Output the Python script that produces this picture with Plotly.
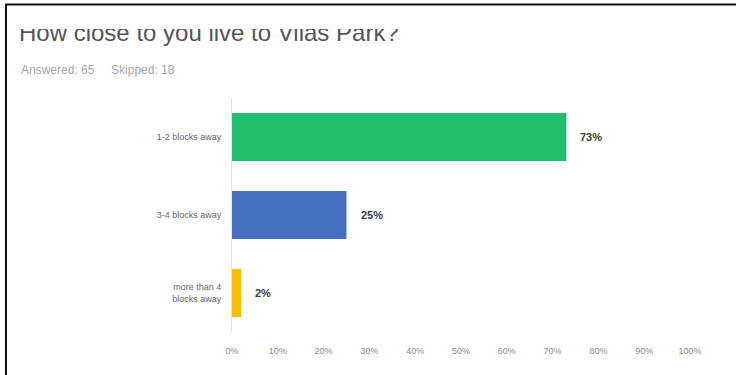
import plotly.graph_objects as go

# ---- data ----
categories = ["1-2 blocks away", "3-4 blocks away", "more than 4<br>blocks away"]
values = [73, 25, 2]
value_labels = ["73%", "25%", "2%"]
bar_colors = ["#1fbf6d", "#4671bf", "#f7bd00"]
tick_vals = [0, 10, 20, 30, 40, 50, 60, 70, 80, 90, 100]
tick_text = ["0%", "10%", "20%", "30%", "40%", "50%", "60%", "70%", "80%", "90%", "100%"]
title_text = "How close to you live to Vilas Park?"
subtitle_text = "Answered: 65&nbsp;&nbsp;&nbsp;&nbsp;&nbsp;Skipped: 18"

W, H = 736, 375
FONT = "Liberation Sans, Arial, sans-serif"

def px_x(p):
    return p / W

def px_y(p):
    return 1 - p / H

fig = go.Figure()

fig.add_trace(go.Bar(
    y=categories, x=values, orientation="h",
    marker=dict(color=bar_colors, line=dict(width=0)),
    width=0.615, hoverinfo="skip", showlegend=False,
))

# title drawn as clipped text (top of letters cut off as in the screenshot)
fig.add_trace(go.Scatter(
    x=[19], y=[34.5], mode="text", text=[title_text],
    textposition="middle right",
    textfont=dict(family=FONT, size=24, color="#555555"),
    xaxis="x2", yaxis="y2", cliponaxis=True,
    hoverinfo="skip", showlegend=False,
))

for v, c, t in zip(values, categories, value_labels):
    fig.add_annotation(
        x=v, y=c, text="<b>" + t + "</b>", showarrow=False,
        xanchor="left", xshift=12,
        font=dict(family=FONT, size=11, color="#3a3a3a"),
    )

fig.add_annotation(
    x=px_x(19), y=px_y(70), xref="paper", yref="paper",
    text=subtitle_text, showarrow=False, xanchor="left", yanchor="middle",
    font=dict(family=FONT, size=12, color="#a6a6a6"),
)

# screenshot border (top and left)
fig.add_shape(type="line", xref="paper", yref="paper",
              x0=px_x(5), x1=1.0, y0=px_y(4.5), y1=px_y(4.5),
              line=dict(color="#111111", width=2))
fig.add_shape(type="line", xref="paper", yref="paper",
              x0=px_x(6), x1=px_x(6), y0=px_y(4), y1=0,
              line=dict(color="#111111", width=2))

fig.update_layout(
    width=W, height=H,
    margin=dict(l=0, r=0, t=0, b=0, autoexpand=False),
    paper_bgcolor="white", plot_bgcolor="rgba(0,0,0,0)",
    bargap=0.38,
    xaxis=dict(
        domain=[px_x(232), px_x(690)], range=[0, 100],
        tickvals=tick_vals, ticktext=tick_text,
        showgrid=False, zeroline=False, showline=False, ticks="",
        tickfont=dict(family=FONT, size=9, color="#8a8a8a"),
        ticklabelstandoff=12, fixedrange=True, automargin=False,
    ),
    yaxis=dict(
        domain=[px_y(332), px_y(98)],
        autorange="reversed",
        showgrid=False, zeroline=False,
        showline=True, linecolor="#e2e2e2", linewidth=1,
        ticks="", ticklabelstandoff=8,
        tickfont=dict(family=FONT, size=9, color="#666666"),
        fixedrange=True, automargin=False,
    ),
    xaxis2=dict(domain=[0, 1], range=[0, W], visible=False, fixedrange=True),
    yaxis2=dict(domain=[0, px_y(29)], range=[H, 29], visible=False, fixedrange=True),
)

fig.write_html("out.html", config={"displayModeBar": False},
               post_script="document.body.style.margin='0';")
